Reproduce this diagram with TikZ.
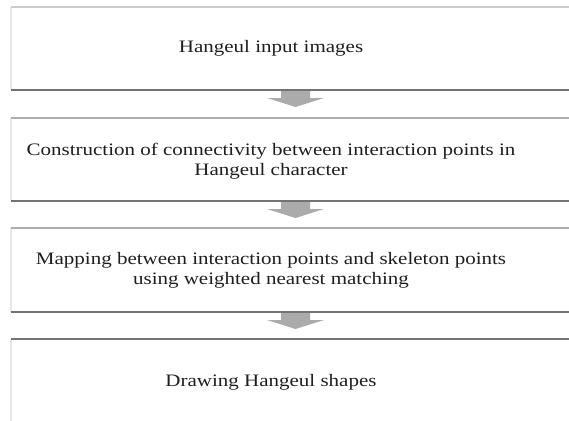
\documentclass[tikz,border=0pt]{standalone}
\usepackage{fontspec}
\usepackage{graphicx}
\setmainfont{Liberation Serif}
\newcommand{\widetext}[1]{\scalebox{1.2}[1]{\begin{tabular}{@{}c@{}}#1\end{tabular}}}
\begin{document}
\begin{tikzpicture}[x=1pt,y=-1pt,
  toprule/.style={draw=black!20,line width=1.4pt},
  toprule2/.style={draw=black!32,line width=1.6pt},
  leftrule/.style={draw=black!9,line width=2pt},
  botrule/.style={draw=black!55,line width=1.4pt},
  lbl/.style={font=\fontsize{17.5}{20}\selectfont,text=black!88,align=center,inner sep=0pt},
  flowarrow/.style={fill=black!33,draw=none}]
\useasboundingbox (0,0) rectangle (569,420);
\fill[white] (0,0) rectangle (569,420);
% boxes
\coordinate (b1tl) at (11,7);   \coordinate (b1bl) at (11,90);
\coordinate (b2tl) at (11,118); \coordinate (b2bl) at (11,201);
\coordinate (b3tl) at (11,228); \coordinate (b3bl) at (11,312);
\coordinate (b4tl) at (11,339); \coordinate (b4bl) at (11,425);
\draw[leftrule] (b1tl) -- (b1bl);
\draw[leftrule] (b2tl) -- (b2bl);
\draw[leftrule] (b3tl) -- (b3bl);
\draw[leftrule] (b4tl) -- (b4bl);
\draw[toprule] (b1tl) -- ++(570,0);
\draw[botrule] (b1bl) -- ++(570,0);
\draw[toprule2] (b2tl) -- ++(570,0);
\draw[botrule] (b2bl) -- ++(570,0);
\draw[toprule2] (b3tl) -- ++(570,0);
\draw[botrule] (b3bl) -- ++(570,0);
\draw[botrule] (b4tl) -- ++(570,0);
% labels
\node[lbl] (t1) at (271,49) {\widetext{Hangeul input images}};
\node[lbl] (t2) at (271,161) {\widetext{Construction of connectivity between interaction points in\\Hangeul character}};
\node[lbl] (t3) at (271,270) {\widetext{Mapping between interaction points and skeleton points\\using weighted nearest matching}};
\node[lbl] (t4) at (271,382) {\widetext{Drawing Hangeul shapes}};
% arrows
\foreach \y/\n in {91/a1,202/a2,313/a3}{
  \fill[flowarrow] (281,\y) -- (310,\y) -- (310,\y+7) -- (324,\y+7) -- (295.5,\y+16) -- (267,\y+7) -- (281,\y+7) -- cycle;
}
\end{tikzpicture}
\end{document}
